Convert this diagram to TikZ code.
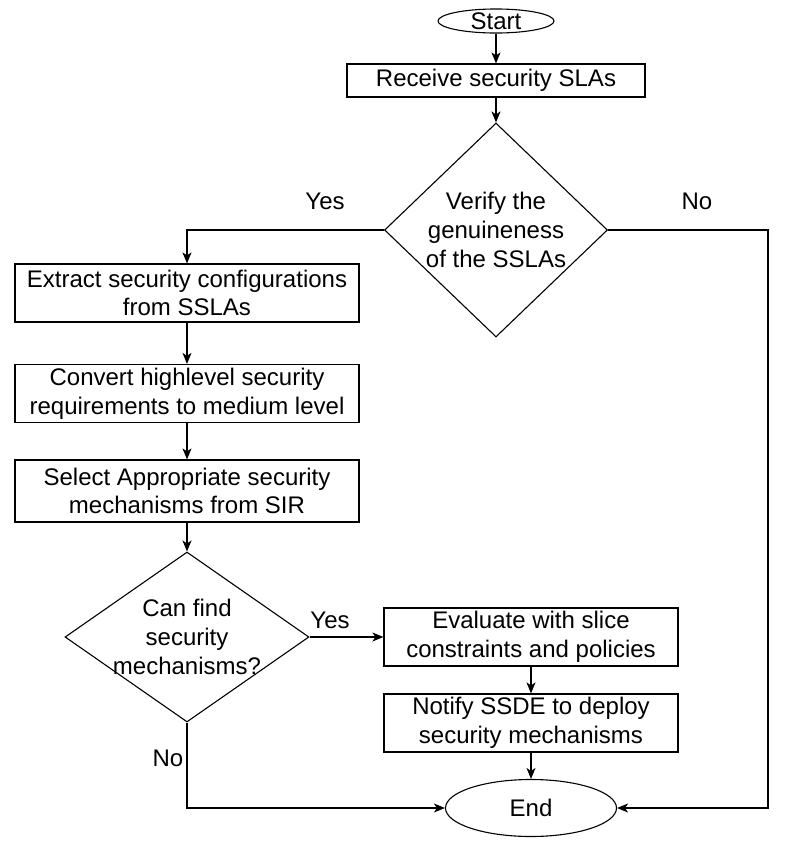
\documentclass[tikz,border=0pt]{standalone}
\usepackage{fontspec}
\setmainfont{Liberation Sans}
\usetikzlibrary{shapes.geometric,arrows.meta}

\tikzset{
  caja/.style={draw, line width=1.2pt, inner sep=0pt, align=center,
    minimum width=#1, minimum height=58pt},
  rombo/.style={draw, diamond, line width=1.1pt, inner sep=0pt},
  texto rombo/.style={label={[align=center]center:{#1}}},
  terminal/.style={draw, ellipse, line width=1.1pt, inner sep=0pt},
  flecha/.style={line width=1.2pt, -{Stealth[length=11pt,width=9pt,inset=3pt]}},
  etiqueta/.style={inner sep=0pt}
}

\begin{document}
\begin{tikzpicture}[x=1pt, y=-1pt, font=\fontsize{24}{28.8}\selectfont]
                \useasboundingbox (0,0) rectangle (806,852);
                \node[terminal, minimum width=116pt, minimum height=24pt] (inicio) at (496,21) {Start}; % inicio
                \node[caja=298pt, minimum height=33pt] (recibir) at (496,80.5) {Receive security SLAs};
                \node[rombo, minimum width=223pt, minimum height=214pt,
                      texto rombo={Verify the\\genuineness\\of the SSLAs}] (verif) at (496,230) {};
                \node[caja=344pt] (extraer) at (187,293) {Extract security configurations\\from SSLAs};
                \node[caja=344pt] (convertir) at (187,393.5) {Convert highlevel security\\requirements to medium level};
                \node[caja=344pt, minimum height=62pt] (elegir) at (187,491) {Select Appropriate security\\mechanisms from SIR};
                \node[rombo, minimum width=244pt, minimum height=170pt,
                      texto rombo={Can find\\security\\mechanisms?}] (buscar) at (187,637) {};
                \node[caja=294pt] (evaluar) at (531,637) {Evaluate with slice\\constraints and policies};
                \node[caja=294pt] (notificar) at (531,723) {Notify SSDE to deploy\\security mechanisms};
                \node[terminal, minimum width=171pt, minimum height=57pt] (fin) at (531,808) {End}; % fin
                \coordinate (esquina) at (768,230);
                % conexiones
                \draw[flecha] (inicio) -- (recibir);
                \draw[flecha] (recibir) -- (verif);
                \draw[flecha] (verif.west) -| (extraer.north);
                \draw[flecha] (extraer) -- (convertir);
                \draw[flecha] (convertir) -- (elegir);
                \draw[flecha] (elegir) -- (buscar);
                \draw[flecha] (buscar.east) -- (evaluar.west);
                \draw[flecha] (evaluar) -- (notificar);
                \draw[flecha] (notificar) -- (fin);
                \draw[flecha] (buscar.south) |- (fin.west);
                \draw[flecha] (verif.east) -- (esquina) |- (fin.east);
                % etiquetas
                \node[etiqueta] (si1) at (325,201) {Yes};
                \node[etiqueta] (no1) at (697,201) {No};
                \node[etiqueta] (si2) at (330,620) {Yes};
                \node[etiqueta] (no2) at (168,758) {No};
\end{tikzpicture}
\end{document}
